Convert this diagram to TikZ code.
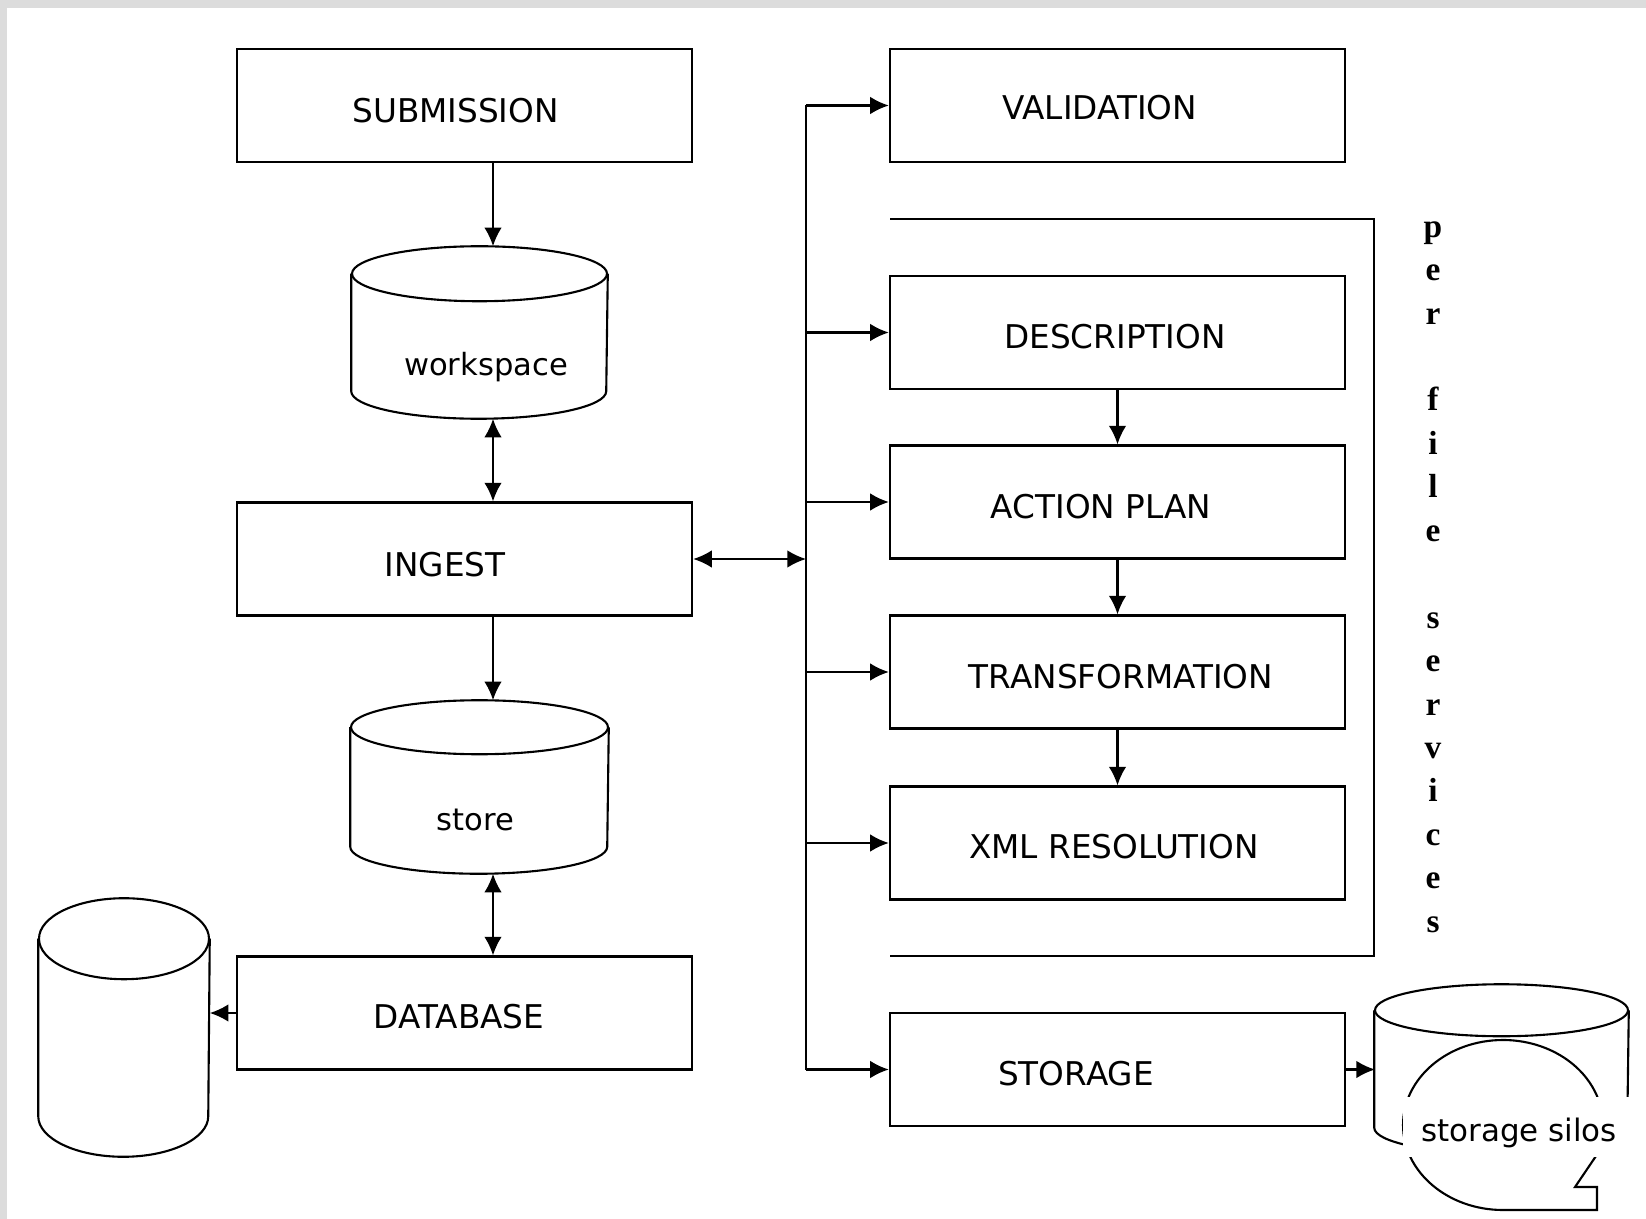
\documentclass[tikz,border=0pt]{standalone}
\usepackage{fontspec}
\setmainfont{DejaVu Sans}
\newfontfamily\perfilefont{Liberation Serif}
\usetikzlibrary{calc}
\usetikzlibrary{positioning}
\usetikzlibrary{arrows.meta}
\definecolor{framegray}{HTML}{DCDCDC}
\tikzstyle{stagebox} = [draw, rectangle, line width=0.6pt, minimum width=4.55cm, minimum height=1.13cm, inner sep=0pt]
\tikzstyle{cylbody} = [rectangle, inner sep=0pt]
\tikzstyle{flow} = [line width=0.6pt, -{Latex[length=5.3pt,width=5pt]}]
\tikzstyle{dflow} = [line width=0.6pt, {Latex[length=5.3pt,width=5pt]}-{Latex[length=5.3pt,width=5pt]}]
\tikzstyle{perfile} = [align=center, inner sep=0pt, font=\perfilefont\bfseries\fontsize{9.5}{12.35}\selectfont]
\tikzstyle{cyllabel} = [font=\fontsize{8.7}{11}\selectfont]
% outline of a drum round a body node: node, x radius, y radius
\newcommand{\dbcylinder}[3]{%
  \draw[line width=0.6pt] ($(#1.north)+(0,#3)$) ellipse [x radius=#2, y radius=#3];
  \draw[line width=0.6pt] ($(#1.north west)+(0,#3)$) -- ($(#1.south west)+(0,-#3)$)
    arc[start angle=180, end angle=0, x radius=#2, y radius=#3] -- ($(#1.north east)+(0,#3)$);
}

\begin{document}
\begin{tikzpicture}[x=0.01cm, y=-0.01cm, every label/.style={font=\fontsize{9.3}{11}\selectfont}]
\fill[framegray] (0,0) rectangle (1646,1219);
\fill[white] (7,8) rectangle (1646,1219);
\useasboundingbox (0,0) rectangle (1646,1219);

% left column
\node[stagebox, label={[shift={(-9,5)}]center:SUBMISSION}] (submission) at (464.5,105.5) {};
\node[cylbody, minimum width=2.55cm, minimum height=1.71cm, label={[cyllabel, shift={(6.5,34.5)}]center:workspace}] (workspace) at (479.5,332.5) {};
\dbcylinder{workspace}{127.5}{27.5}
\node[stagebox, label={[shift={(-19.5,6)}]center:INGEST}] (ingest) at (464.5,559) {};
\node[cylbody, minimum width=2.57cm, minimum height=1.72cm, label={[cyllabel, shift={(-4,33)}]center:store}] (store) at (479.5,787) {};
\dbcylinder{store}{128.5}{27}
\node[stagebox, label={[shift={(-5.5,4)}]center:DATABASE}] (database) at (464.5,1013) {};
\node[cylbody, minimum width=1.70cm, minimum height=2.57cm] (archive) at (124,1027.5) {};
\dbcylinder{archive}{85}{40.5}
\coordinate (spine) at (493,0);

% right column
\node[stagebox, label={[shift={(-18,2.5)}]center:VALIDATION}] (validation) at (1117.5,105.5) {};
\node[stagebox, label={[shift={(-2.5,4.5)}]center:DESCRIPTION}] (description) at (1117.5,332.5) {};
\node[stagebox, label={[shift={(-16.5,5)}]center:ACTION PLAN}] (actionplan) at (1117.5,502) {};
\node[stagebox, label={[shift={(3.5,5)}]center:TRANSFORMATION}] (transformation) at (1117.5,672) {};
\node[stagebox, label={[shift={(-3.5,4)}]center:XML RESOLUTION}] (xmlres) at (1117.5,843) {};
\node[stagebox, label={[shift={(-41.5,4.5)}]center:STORAGE}] (storage) at (1117.5,1069.5) {};
\coordinate (bus) at (806,105);

% per file services bracket
\draw[line width=0.6pt] (890,219) -- (1374,219) -- (1374,956) -- (890,956);
\node[perfile] (perfiletext) at (1433,577) {p\\e\\r\\\mbox{}\\f\\i\\l\\e\\\mbox{}\\s\\e\\r\\v\\i\\c\\e\\s};

% storage silos
\node[cylbody, minimum width=2.53cm, minimum height=1.68cm] (silo) at (1501.5,1069) {};
\dbcylinder{silo}{126.5}{26}
\draw[line width=0.6pt, fill=white] (1503,1210) arc[start angle=90, end angle=381, x radius=100, y radius=85]
  -- (1575,1187) -- (1597,1187) -- (1597,1210) -- cycle;
\node[fill=white, inner sep=0pt, minimum width=2.32cm, minimum height=0.6cm, text height=8.5pt, text depth=0pt, font=\fontsize{8.8}{11}\selectfont] (silos) at (1519,1127) {storage silos};
\coordinate (siloin) at (1375,1069.5);

% connectors
\draw[flow] (submission.south -| spine) -- (workspace.north -| spine);
\draw[dflow] (workspace.south -| spine) -- (ingest.north -| spine);
\draw[flow] (ingest.south -| spine) -- (store.north -| spine);
\draw[dflow] (store.south -| spine) -- (database.north -| spine);
\draw[flow] (database.west) -- (database.west -| archive.east);
\draw[dflow] (ingest.east) -- (ingest.east -| bus);
\draw[line width=0.6pt] (validation.west -| bus) -- (storage.west -| bus);
\foreach \svc in {validation,description,actionplan,transformation,xmlres,storage}
  \draw[flow] (\svc.west -| bus) -- (\svc.west);
\draw[flow] (description.south) -- (actionplan.north);
\draw[flow] (actionplan.south) -- (transformation.north);
\draw[flow] (transformation.south) -- (xmlres.north);
\draw[flow] (storage.east) -- (siloin);
\end{tikzpicture}
\end{document}
